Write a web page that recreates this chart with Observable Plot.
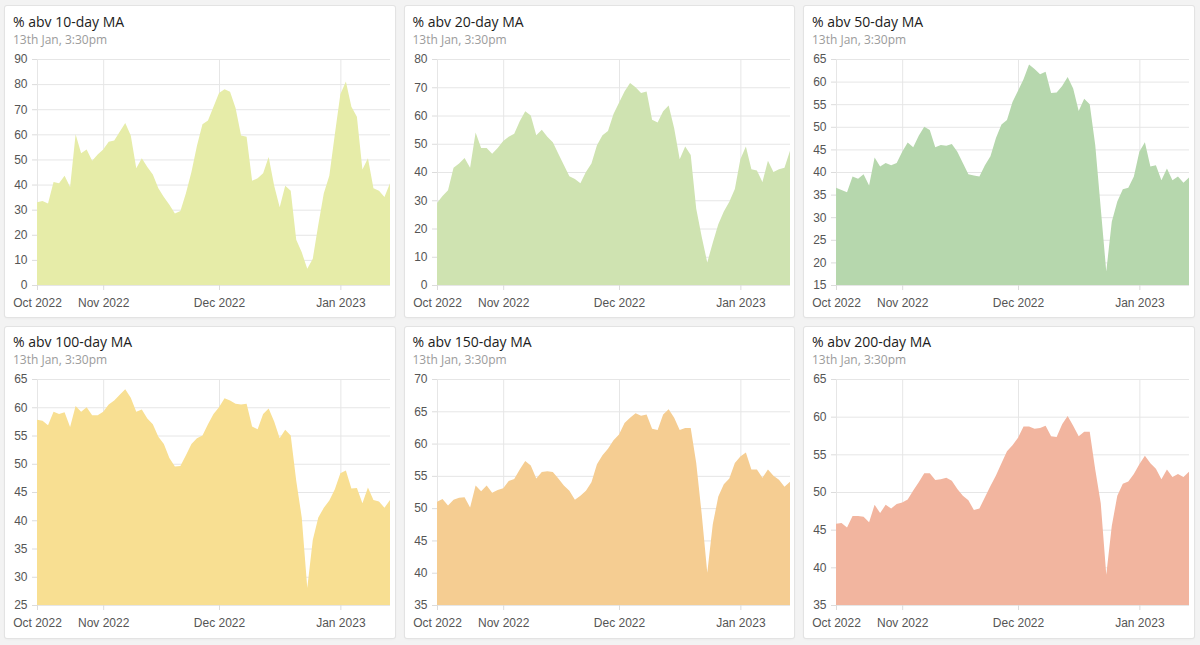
<!DOCTYPE html>
<html>
<head>
<meta charset="utf-8">
<script src="https://cdn.jsdelivr.net/npm/d3@7"></script>
<script src="https://cdn.jsdelivr.net/npm/@observablehq/plot@0.6"></script>
<style>
  html, body { margin: 0; padding: 0; }
  body { width: 1200px; height: 645px; overflow: hidden; position: relative; background: #f3f3f3; font-family: "Open Sans", sans-serif; }
  .card { position: absolute; width: 389.5px; height: 311px; background: #fff; box-shadow: 0 0 0 1px #e3e3e3, 0 1px 3px rgba(0,0,0,0.06); border-radius: 2px; }
  .title { position: absolute; left: 8px; top: 5.5px; font-size: 14px; line-height: 19px; color: #1c1c1c; white-space: nowrap; }
  .sub { position: absolute; left: 8px; top: 24.5px; font-size: 12px; line-height: 17px; color: #9b9b9b; white-space: nowrap; }
  .card svg { position: absolute; left: 0; top: 43.5px; }
</style>
</head>
<body>
<script>
// ---- data (trading-day index 0..64, mid-Oct 2022 to 13 Jan 2023) ----
const titles = ["% abv 10-day MA", "% abv 20-day MA", "% abv 50-day MA", "% abv 100-day MA", "% abv 150-day MA", "% abv 200-day MA"];
const subtitle = "13th Jan, 3:30pm";
const monthTickIndex = [0, 12, 33, 55];
const monthTickLabels = ["Oct 2022", "Nov 2022", "Dec 2022", "Jan 2023"];

const ma10 = [33,33.5,32.5,41,40.5,43.5,39,60,52.5,54,49.5,52,54,57,57.5,61,64.5,59.5,46.5,50.5,47,44,38.5,35,32,28.5,29.5,36.5,45,55.5,64,65.5,71,76.5,78,77,70.5,59.5,59,41.5,42.5,44.5,51,39.5,31,39.5,37.5,18,13,6.5,10.5,24,36.5,43.5,60,76,81,71,67,46,50.5,38.5,37.5,35,40.5];
const ma20 = [29,31.5,33.5,41.5,43,45,41.5,54,48.5,48.5,46.5,48.5,51,52.5,53.5,58,61.5,60,53,55,52.5,50.5,46.5,42.5,38.5,37.5,36,40,43,49.5,53,54.5,60.5,64.5,68.5,71.5,70,68,68.5,58.5,57.5,61.5,63.5,55.5,44.5,49,46,27,17,8,15,21.5,26,29.5,34,44.5,49,41,40.5,36.5,44,40,41,41.5,47.5];
const ma50 = [36.5,36,35.5,39,38.5,39.5,37,43.2,41.2,42,41.5,42,44.5,46.5,45.5,48,50,49.3,45.5,46,45.8,46.2,44.5,42,39.5,39.2,39,41.5,43.5,47.5,50.5,51.5,55.5,58,60.5,63.8,62.8,61.6,62.2,57.5,57.6,59,61,58.5,53.5,56.2,55,46,32,18,29,33.5,36.2,36.5,39,44.5,46.6,41.2,41.5,38.2,40.8,38.2,39,37.6,38.8];
const ma100 = [57.8,57.6,56.8,59.2,58.8,59.1,56.5,60.2,59.2,60,58.6,58.6,59.2,60.5,61.2,62.2,63.2,61.7,59.2,59.6,58,57,54.8,53.5,51,49.5,49.6,51.5,53.5,54.5,55,57,58.8,60,61.6,61.2,60.6,60.5,60.6,56.6,56.1,58.8,59.8,57.5,54.5,56,55,47,40.5,28,36.5,40.5,42.2,43.5,45.5,48.3,48.8,45.6,45.7,43,45.8,43.6,43.3,42.2,43.6];
const ma150 = [51,51.4,50.4,51.3,51.6,51.7,50.1,53.5,52.6,53.5,52.4,52.8,53.1,54.2,54.5,56,57.3,56.6,54.6,55.6,55.7,55.6,54.6,53.5,52.7,51.3,51.9,52.7,54,56.8,58.2,59.2,60.5,61.4,63.2,64,64.7,64.3,64.5,62.3,62.1,64.5,65.3,64,62.1,62.4,62.4,57,49,40,47.5,51.8,53.7,54.6,57,58,58.6,56,56,54.7,56,55,54.4,53.3,54.1];
const ma200 = [45.8,45.9,45.3,46.8,46.8,46.7,46,48.3,47.2,48.3,47.8,48.4,48.6,49,50.2,51.3,52.5,52.5,51.6,51.7,51.9,51.5,50.4,49.5,48.9,47.6,47.8,49.3,50.8,52.2,53.8,55.4,56.2,57.2,58.7,58.7,58.4,58.5,58.8,57.4,57.3,59,60.1,58.8,57.4,58,58,53,48.5,39,45.5,49.5,51.1,51.4,52.4,53.7,54.8,53.8,53.1,51.7,53,52,52.4,52,52.7];

const seriesList = [ma10, ma20, ma50, ma100, ma150, ma200];
const yMins = [0, 0, 15, 25, 35, 35];
const yMaxs = [90, 80, 65, 65, 70, 65];
const ySteps = [10, 10, 5, 5, 5, 5];
const fills = ["#e6eca8", "#cfe3b1", "#b6d7ad", "#f8df92", "#f5cd92", "#f2b59f"];

// ---- layout ----
const cardLefts = [5, 404.5, 804];
const cardTops = [6, 326.5];

seriesList.forEach((vals, k) => {
  const card = document.createElement("div");
  card.className = "card";
  card.style.left = cardLefts[k % 3] + "px";
  card.style.top = cardTops[Math.floor(k / 3)] + "px";
  const t = document.createElement("div"); t.className = "title"; t.textContent = titles[k];
  const s = document.createElement("div"); s.className = "sub"; s.textContent = subtitle;
  card.append(t, s);

  const data = vals.map((v, i) => ({i, v}));
  const yTicks = d3.range(yMins[k], yMaxs[k] + 0.001, ySteps[k]);
  const svg = Plot.plot({
    width: 389.5,
    height: 267,
    marginTop: 9,
    marginBottom: 32,
    marginLeft: 32,
    marginRight: 4.5,
    style: {fontFamily: "'Liberation Sans', Arial, sans-serif", fontSize: "12px", color: "#555", background: "transparent", overflow: "visible"},
    x: {type: "linear", domain: [0, vals.length - 1]},
    y: {domain: [yMins[k], yMaxs[k]]},
    marks: [
      Plot.gridY(yTicks, {stroke: "#e6e6e6", strokeOpacity: 1}),
      Plot.gridX(monthTickIndex, {stroke: "#e6e6e6", strokeOpacity: 1}),
      Plot.areaY(data, {x: "i", y1: yMins[k], y2: "v", fill: fills[k]}),
      Plot.axisY(yTicks, {tickSize: 5, tickPadding: 5, label: null, tickFormat: d => String(d)}),
      Plot.axisX(monthTickIndex, {tickSize: 5, tickPadding: 8, label: null,
        tickFormat: d => monthTickLabels[monthTickIndex.indexOf(d)]})
    ]
  });
  d3.select(svg).selectAll('g[aria-label="y-axis tick"], g[aria-label="x-axis tick"]')
    .attr("stroke", "#dcdcdc");
  card.appendChild(svg);
  document.body.appendChild(card);
});
</script>
</body>
</html>
